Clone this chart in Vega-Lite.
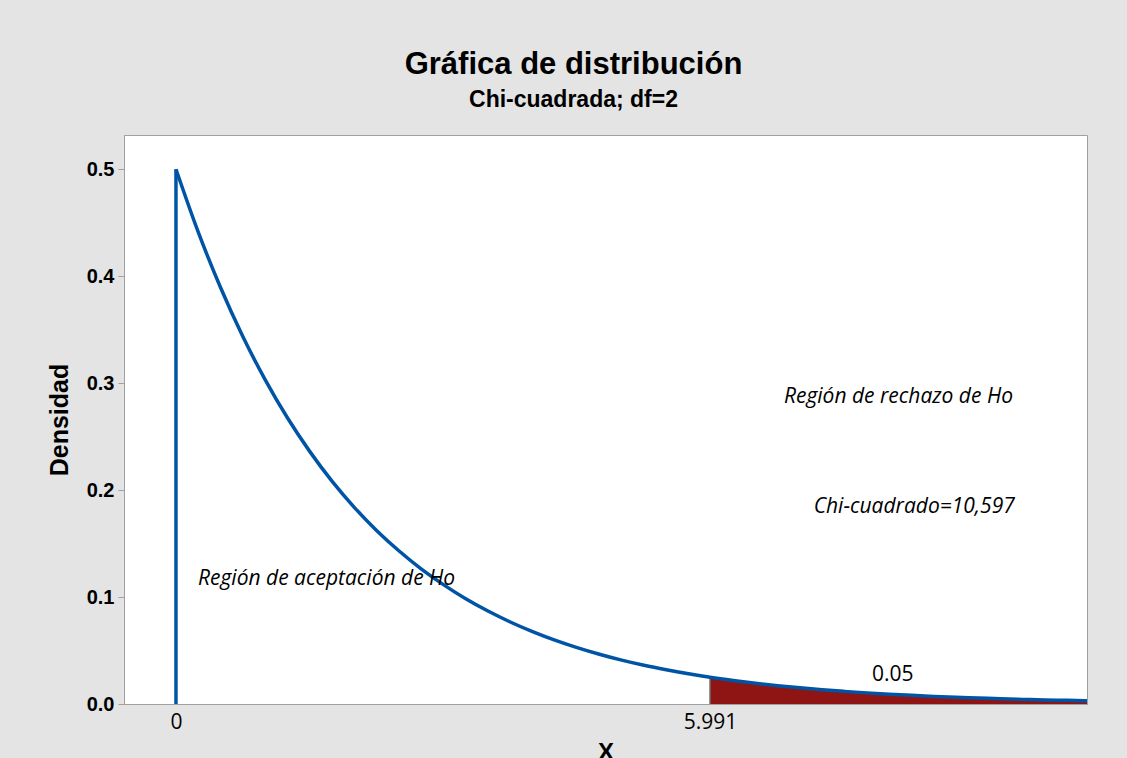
{
  "$schema": "https://vega.github.io/schema/vega-lite/v6.json",
  "width": 963,
  "height": 569,
  "autosize": {"type": "none"},
  "padding": {"left": 124, "top": 135, "right": 40, "bottom": 54},
  "background": "#e4e4e4",
  "title": {
    "text": "Gráfica de distribución",
    "subtitle": "Chi-cuadrada; df=2",
    "anchor": "middle",
    "dx": -32,
    "offset": 22,
    "font": "Liberation Sans",
    "fontSize": 31,
    "fontWeight": "bold",
    "color": "#000000",
    "subtitleFont": "Liberation Sans",
    "subtitleFontSize": 23,
    "subtitleFontWeight": "bold",
    "subtitleColor": "#000000",
    "subtitlePadding": 8
  },
  "config": {
    "view": {"fill": "#ffffff", "stroke": "#a0a0a0", "strokeWidth": 1},
    "axis": {"grid": false}
  },
  "datasets": {
    "curve": [
      {"x": 0, "y": 0.5}, {"x": 0.25, "y": 0.4412}, {"x": 0.5, "y": 0.3894}, {"x": 0.75, "y": 0.3436},
      {"x": 1, "y": 0.3033}, {"x": 1.25, "y": 0.2676}, {"x": 1.5, "y": 0.2362}, {"x": 1.75, "y": 0.2084},
      {"x": 2, "y": 0.1839}, {"x": 2.25, "y": 0.1623}, {"x": 2.5, "y": 0.1433}, {"x": 2.75, "y": 0.1264},
      {"x": 3, "y": 0.1116}, {"x": 3.25, "y": 0.0984}, {"x": 3.5, "y": 0.0869}, {"x": 3.75, "y": 0.0767},
      {"x": 4, "y": 0.0677}, {"x": 4.25, "y": 0.0597}, {"x": 4.5, "y": 0.0527}, {"x": 4.75, "y": 0.0465},
      {"x": 5, "y": 0.041}, {"x": 5.25, "y": 0.0362}, {"x": 5.5, "y": 0.032}, {"x": 5.75, "y": 0.0282},
      {"x": 5.991, "y": 0.025}, {"x": 6.25, "y": 0.022}, {"x": 6.5, "y": 0.0194}, {"x": 6.75, "y": 0.0171},
      {"x": 7, "y": 0.0151}, {"x": 7.25, "y": 0.0133}, {"x": 7.5, "y": 0.0118}, {"x": 7.75, "y": 0.0104},
      {"x": 8, "y": 0.0092}, {"x": 8.25, "y": 0.0081}, {"x": 8.5, "y": 0.0071}, {"x": 8.75, "y": 0.0063},
      {"x": 9, "y": 0.0056}, {"x": 9.25, "y": 0.0049}, {"x": 9.5, "y": 0.0043}, {"x": 9.75, "y": 0.0038},
      {"x": 10, "y": 0.0034}, {"x": 10.22, "y": 0.003}
    ],
    "tail": [
      {"x": 5.991, "y": 0.025}, {"x": 6.25, "y": 0.022}, {"x": 6.5, "y": 0.0194}, {"x": 6.75, "y": 0.0171},
      {"x": 7, "y": 0.0151}, {"x": 7.25, "y": 0.0133}, {"x": 7.5, "y": 0.0118}, {"x": 7.75, "y": 0.0104},
      {"x": 8, "y": 0.0092}, {"x": 8.25, "y": 0.0081}, {"x": 8.5, "y": 0.0071}, {"x": 8.75, "y": 0.0063},
      {"x": 9, "y": 0.0056}, {"x": 9.25, "y": 0.0049}, {"x": 9.5, "y": 0.0043}, {"x": 9.75, "y": 0.0038},
      {"x": 10, "y": 0.0034}, {"x": 10.22, "y": 0.003}
    ]
  },
  "layer": [
    {
      "data": {"name": "tail"},
      "mark": {"type": "area", "color": "#8f1414", "clip": true},
      "encoding": {
        "x": {
          "field": "x", "type": "quantitative",
          "scale": {"domain": [-0.583, 10.22], "nice": false, "zero": false},
          "axis": {
            "values": [0, 5.991],
            "format": ".4~g",
            "title": "X",
            "titleFont": "Liberation Sans",
            "titleFontSize": 24,
            "titleFontWeight": "bold",
            "titleColor": "#000000",
            "titlePadding": 8,
            "labelFont": "Open Sans",
            "labelFontSize": 21,
            "labelFontWeight": "normal",
            "labelColor": "#000000",
            "labelPadding": 7,
            "ticks": false,
            "domainColor": "#a0a0a0",
            "labelFlush": false
          }
        },
        "y": {
          "field": "y", "type": "quantitative",
          "scale": {"domain": [0, 0.532], "nice": false},
          "axis": {
            "values": [0, 0.1, 0.2, 0.3, 0.4, 0.5],
            "format": ".1f",
            "title": "Densidad",
            "titleFont": "Liberation Sans",
            "titleFontSize": 25,
            "titleFontWeight": "bold",
            "titleColor": "#000000",
            "titlePadding": 14,
            "labelFont": "Liberation Sans",
            "labelFontSize": 20,
            "labelFontWeight": "bold",
            "labelColor": "#000000",
            "labelPadding": 4,
            "tickColor": "#a0a0a0",
            "tickSize": 6,
            "domainColor": "#a0a0a0"
          }
        },
        "y2": {"datum": 0}
      }
    },
    {
      "data": {"values": [{"x": 5.991, "y": 0.025}]},
      "mark": {"type": "rule", "color": "#6e6e6e", "strokeWidth": 1.5},
      "encoding": {
        "x": {"field": "x", "type": "quantitative"},
        "y": {"field": "y", "type": "quantitative"},
        "y2": {"datum": 0}
      }
    },
    {
      "data": {"values": [{"x": 0, "y": 0.5}]},
      "mark": {"type": "rule", "color": "#0054a6", "strokeWidth": 3.5},
      "encoding": {
        "x": {"field": "x", "type": "quantitative"},
        "y": {"field": "y", "type": "quantitative"},
        "y2": {"datum": 0}
      }
    },
    {
      "data": {"name": "curve"},
      "mark": {"type": "line", "color": "#0054a6", "strokeWidth": 3.5, "clip": true, "interpolate": "monotone"},
      "encoding": {
        "x": {"field": "x", "type": "quantitative"},
        "y": {"field": "y", "type": "quantitative"}
      }
    },
    {
      "data": {"values": [
        {"x": 0.247, "y": 0.117, "label": "Región de aceptación de Ho"}
      ]},
      "mark": {"type": "text", "align": "left", "baseline": "middle", "font": "Open Sans", "fontStyle": "italic", "fontSize": 21, "color": "#000000"},
      "encoding": {
        "x": {"field": "x", "type": "quantitative"},
        "y": {"field": "y", "type": "quantitative"},
        "text": {"field": "label"}
      }
    },
    {
      "data": {"values": [
        {"x": 9.39, "y": 0.287, "label": "Región de rechazo de Ho"},
        {"x": 9.41, "y": 0.184, "label": "Chi-cuadrado=10,597"}
      ]},
      "mark": {"type": "text", "align": "right", "baseline": "middle", "font": "Open Sans", "fontStyle": "italic", "fontSize": 21, "color": "#000000"},
      "encoding": {
        "x": {"field": "x", "type": "quantitative"},
        "y": {"field": "y", "type": "quantitative"},
        "text": {"field": "label"}
      }
    },
    {
      "data": {"values": [{"x": 8.04, "y": 0.027, "label": "0.05"}]},
      "mark": {"type": "text", "align": "center", "baseline": "middle", "font": "Open Sans", "fontSize": 21, "color": "#000000"},
      "encoding": {
        "x": {"field": "x", "type": "quantitative"},
        "y": {"field": "y", "type": "quantitative"},
        "text": {"field": "label"}
      }
    }
  ]
}
